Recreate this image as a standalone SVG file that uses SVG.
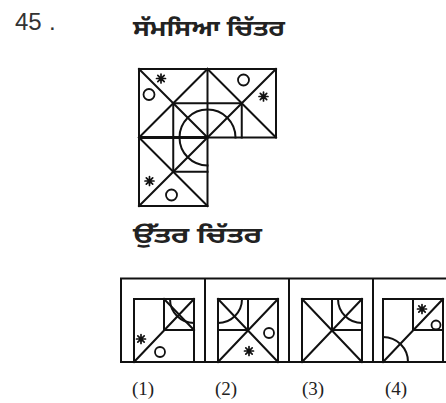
<svg xmlns="http://www.w3.org/2000/svg" xmlns:xlink="http://www.w3.org/1999/xlink" width="446" height="403" viewBox="0 0 446 403">
<style>
.ln{fill:none;stroke:#111;stroke-width:2;stroke-linecap:square;stroke-linejoin:miter}
.th{fill:none;stroke:#111;stroke-width:3.2}
.ci{fill:none;stroke:#111;stroke-width:1.8}
.st{fill:none;stroke:#111;stroke-width:1.7;stroke-linecap:round}
.pa{font-family:"Noto Sans Gurmukhi","Lohit Gurmukhi","Noto Sans",sans-serif;font-weight:bold;font-size:22px;fill:#222}
.num{font-family:"Liberation Sans",Arial,sans-serif;font-size:24px;fill:#333}
.lb{font-family:"Liberation Serif","Times New Roman",serif;font-size:19px;fill:#222}
</style>
<defs>
<g id="star"><path class="st" d="M-4.5,0H4.5M0,-4.5V4.5M-3.2,-3.2L3.2,3.2M3.2,-3.2L-3.2,3.2"/></g>
</defs>
<rect width="446" height="403" fill="#fff"/>
<g id="title">
<text class="num" x="15" y="30">45</text>
<text class="num" x="49" y="30">.</text>
<text class="pa" x="133" y="36" textLength="152" lengthAdjust="spacingAndGlyphs">ਸੱਮਸਿਆ ਚਿੱਤਰ</text>
</g>
<g id="problem-figure">
<path class="ln" d="M139,69H276V137.5H207.5V206H139Z"/>
<path class="ln" d="M207.5,69V137.5"/>
<path class="th" d="M139,137.5H207.5"/>
<path class="ln" d="M139,69L207.5,137.5M207.5,69L139,137.5"/>
<path class="ln" d="M207.5,69L276,137.5M276,69L207.5,137.5"/>
<path class="ln" d="M139,137.5L207.5,206M207.5,137.5L139,206"/>
<path class="ln" d="M173.25,171.75V103.25H241.75V137.5M173.25,171.75H207.5"/>
<path class="ln" d="M179.5,137.5A28,28 0 0 1 235.5,137.5M179.5,137.5A28,28 0 0 0 207.5,165.5"/>
<use xlink:href="#star" x="161" y="78.5"/>
<circle class="ci" cx="149" cy="94.5" r="5.5"/>
<circle class="ci" cx="243.5" cy="80" r="5.5"/>
<use xlink:href="#star" x="263.5" y="96.5"/>
<use xlink:href="#star" x="149.5" y="181"/>
<circle class="ci" cx="171.5" cy="195" r="5.5"/>
</g>
<g id="answer-heading">
<text class="pa" x="133" y="243" textLength="129" lengthAdjust="spacingAndGlyphs">ਉੱਤਰ ਚਿੱਤਰ</text>
</g>
<g id="answer-frame">
<path class="ln" d="M121,278.5H446M121,362H446M121,278.5V362M205,278.5V362M289,278.5V362M373,278.5V362"/>
</g>
<g id="option-1">
<rect class="ln" x="134" y="299" width="60" height="63"/>
<path class="ln" d="M164,299V330H194M194,299L134,362M164,299L194,330"/>
<path class="ln" d="M170,299A24,24 0 0 0 194,323"/>
<use xlink:href="#star" x="141" y="339"/>
<circle class="ci" cx="160" cy="352" r="5"/>
</g>
<g id="option-2">
<rect class="ln" x="218" y="299" width="60" height="63"/>
<path class="ln" d="M218,299L278,362M278,299L218,362M248,299V330H218"/>
<path class="ln" d="M242,299A24,24 0 0 1 218,323"/>
<circle class="ci" cx="269" cy="333" r="5"/>
<use xlink:href="#star" x="249" y="351"/>
</g>
<g id="option-3">
<rect class="ln" x="302" y="299" width="60" height="63"/>
<path class="ln" d="M302,299L362,362M362,299L302,362M332,299V330H362"/>
<path class="ln" d="M338,299A24,24 0 0 0 362,323"/>
</g>
<g id="option-4">
<rect class="ln" x="383" y="299" width="60" height="63"/>
<path class="ln" d="M413,299V330H443M443,299L383,362"/>
<path class="ln" d="M383,337A25,25 0 0 1 408,362"/>
<use xlink:href="#star" x="422" y="309"/>
<circle class="ci" cx="436" cy="325" r="4.5"/>
</g>
<g id="labels">
<text class="lb" x="132" y="395">(1)</text>
<text class="lb" x="215" y="395">(2)</text>
<text class="lb" x="302" y="395">(3)</text>
<text class="lb" x="385" y="395">(4)</text>
</g>
</svg>
